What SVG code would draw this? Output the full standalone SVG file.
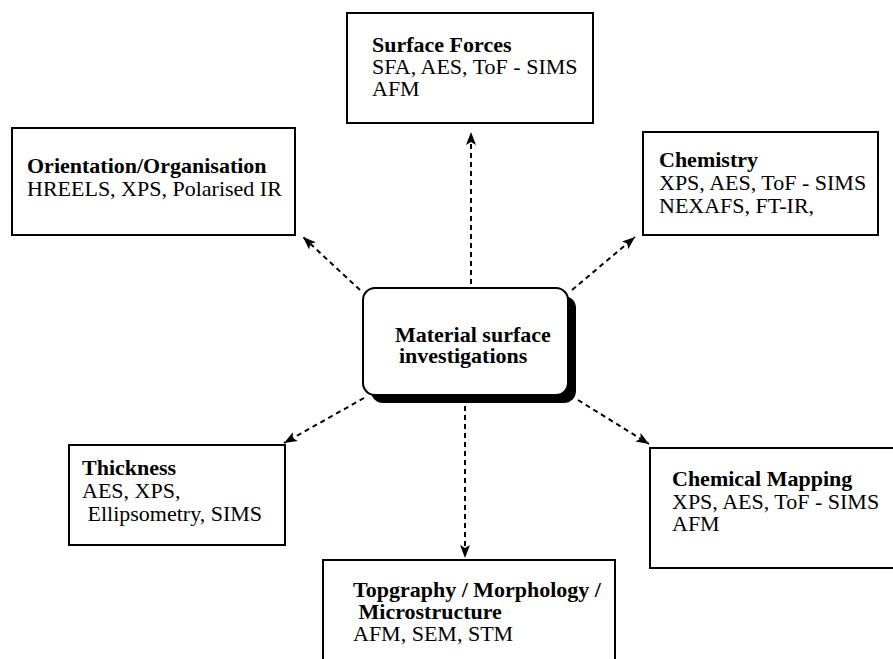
<svg xmlns="http://www.w3.org/2000/svg" width="893" height="659" viewBox="0 0 893 659">
<style>
.box{fill:#fff;stroke:#000;stroke-width:2}
.t{font-family:"Liberation Serif","Times New Roman",serif;font-size:22px;fill:#000}
.b{font-weight:bold}
.c{fill:none;stroke:#000;stroke-width:2;stroke-dasharray:5 4}
</style>
<defs>
<marker id="ah" markerUnits="userSpaceOnUse" markerWidth="14" markerHeight="10" refX="13" refY="5" orient="auto">
<path d="M0,0 L13,5 L0,10 L3,5 Z" fill="#000"/>
</marker>
</defs>
<rect width="893" height="659" fill="#fff"/>
<g id="connectors">
<line class="c" x1="471" y1="284" x2="471" y2="132" marker-end="url(#ah)"/>
<line class="c" x1="360" y1="290" x2="303" y2="237" marker-end="url(#ah)"/>
<line class="c" x1="572" y1="290" x2="635" y2="237" marker-end="url(#ah)"/>
<line class="c" x1="364" y1="398" x2="284" y2="443" marker-end="url(#ah)"/>
<line class="c" x1="578" y1="400" x2="649" y2="444" marker-end="url(#ah)"/>
<line class="c" x1="465" y1="406" x2="465" y2="558" marker-end="url(#ah)"/>
</g>
<g id="center">
<rect x="371" y="296" width="205" height="107" rx="12" fill="#000"/>
<rect class="box" x="363" y="288" width="205" height="107" rx="12"/>
<text class="t b" x="395" y="342">Material surface</text>
<text class="t b" x="399" y="363">investigations</text>
</g>
<g id="surface-forces">
<rect class="box" x="347" y="13" width="246" height="110"/>
<text class="t b" x="372" y="52">Surface Forces</text>
<text class="t" x="372" y="74">SFA, AES, ToF - SIMS</text>
<text class="t" x="372" y="96">AFM</text>
</g>
<g id="orientation">
<rect class="box" x="12" y="128" width="283" height="107"/>
<text class="t b" x="27" y="173">Orientation/Organisation</text>
<text class="t" x="27" y="196">HREELS, XPS, Polarised IR</text>
</g>
<g id="chemistry">
<rect class="box" x="643" y="132" width="235" height="103"/>
<text class="t b" x="659" y="167">Chemistry</text>
<text class="t" x="659" y="190">XPS, AES, ToF - SIMS</text>
<text class="t" x="659" y="213">NEXAFS, FT-IR,</text>
</g>
<g id="thickness">
<rect class="box" x="69" y="445" width="216" height="100"/>
<text class="t b" x="82" y="475">Thickness</text>
<text class="t" x="82" y="498">AES, XPS,</text>
<text class="t" x="82" y="521" xml:space="preserve"> Ellipsometry, SIMS</text>
</g>
<g id="chemical-mapping">
<rect class="box" x="650" y="448" width="250" height="120"/>
<text class="t b" x="672" y="486">Chemical Mapping</text>
<text class="t" x="672" y="509">XPS, AES, ToF - SIMS</text>
<text class="t" x="672" y="531">AFM</text>
</g>
<g id="topography">
<rect class="box" x="323" y="560" width="292" height="120"/>
<text class="t b" x="353" y="597">Topgraphy / Morphology /</text>
<text class="t b" x="353" y="619" xml:space="preserve"> Microstructure</text>
<text class="t" x="353" y="641">AFM, SEM, STM</text>
</g>
</svg>
